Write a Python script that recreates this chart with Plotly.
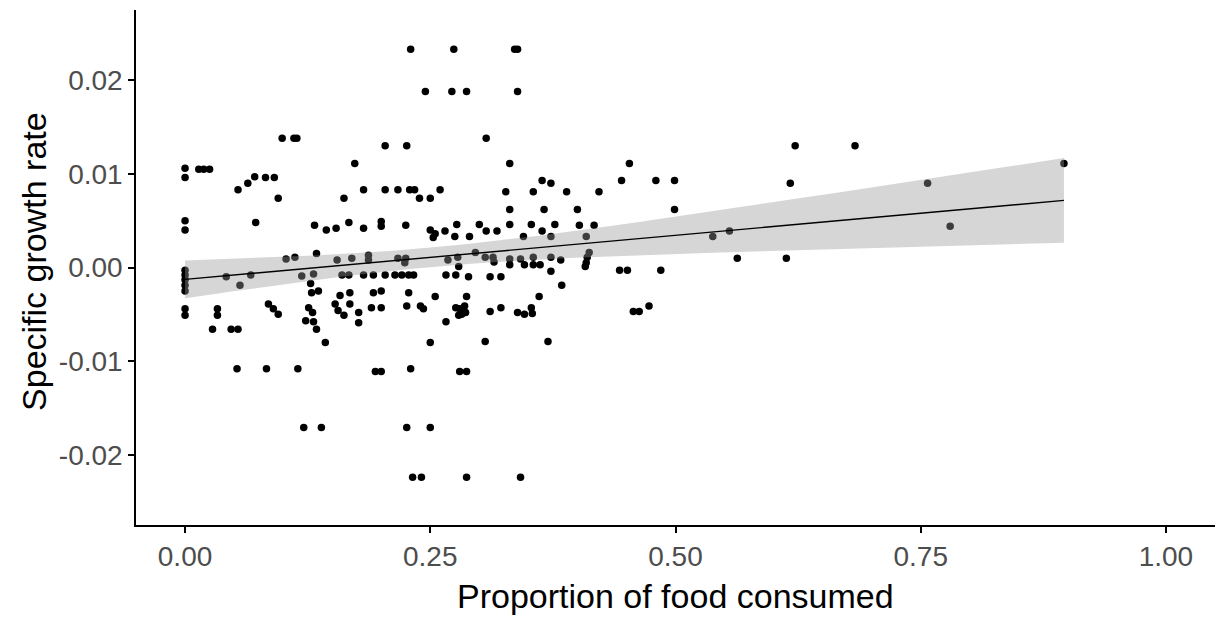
import numpy as np
import plotly.graph_objects as go

# Proportion of food consumed (x) and specific growth rate (y) per fish
prop_consumed = [
    0, 0, 0.014, 0.019, 0.025, 0.099, 0.111, 0.114, 0.054, 0.064,
    0.071, 0.082, 0.091, 0.095, 0, 0, 0.072, 0.103, 0.112, 0,
    0, 0, 0, 0, 0.042, 0.056, 0.067, 0, 0, 0.033,
    0.033, 0.085, 0.090, 0.095, 0.028, 0.047, 0.054, 0.053, 0.083, 0.115,
    0.204, 0.226, 0.173, 0.182, 0.204, 0.217, 0.229, 0.234, 0.162, 0.239,
    0.250, 0.260, 0.132, 0.144, 0.154, 0.167, 0.182, 0.200, 0.200, 0.225,
    0.250, 0.255, 0.253, 0.134, 0.119, 0.131, 0.155, 0.170, 0.187, 0.187,
    0.217, 0.225, 0.224, 0.160, 0.167, 0.182, 0.192, 0.204, 0.214, 0.221,
    0.228, 0.233, 0.128, 0.129, 0.136, 0.158, 0.168, 0.192, 0.200, 0.228,
    0.255, 0.126, 0.130, 0.153, 0.156, 0.162, 0.168, 0.177, 0.190, 0.200,
    0.226, 0.240, 0.243, 0.123, 0.131, 0.134, 0.177, 0.143, 0.250, 0.194,
    0.200, 0.230, 0.121, 0.139, 0.226, 0.250,
    0.230, 0.245, 0.274, 0.336, 0.339, 0.272, 0.287, 0.339, 0.307, 0.331,
    0.364, 0.373, 0.389, 0.327, 0.355, 0.331, 0.366, 0.265, 0.277, 0.275,
    0.290, 0.300, 0.307, 0.318, 0.331, 0.353, 0.364, 0.377, 0.345, 0.373,
    0.296,
    0.268, 0.278, 0.306, 0.314, 0.315, 0.331, 0.331, 0.342, 0.346, 0.355,
    0.355, 0.362, 0.373, 0.383, 0.279, 0.266, 0.276, 0.289, 0.311, 0.322,
    0.373, 0.384, 0.287, 0.361, 0.276, 0.280, 0.285, 0.282, 0.279, 0.286,
    0.311, 0.322, 0.339, 0.346, 0.353, 0.354, 0.266, 0.306, 0.370, 0.280,
    0.287, 0.232, 0.241, 0.287, 0.342,
    0.453, 0.445, 0.480, 0.499, 0.422, 0.400, 0.499, 0.402, 0.417, 0.409,
    0.412, 0.410, 0.409, 0.408, 0.443, 0.451, 0.485, 0.473, 0.457, 0.463,
    0.622, 0.683, 0.617, 0.896, 0.757, 0.780, 0.538, 0.555, 0.563, 0.613,
]

growth_rate = [
    0.0106, 0.0096, 0.0105, 0.0105, 0.0105, 0.0138, 0.0138, 0.0138, 0.0083, 0.0090,
    0.0097, 0.0096, 0.0096, 0.0074, 0.0050, 0.0040, 0.0048, 0.0009, 0.0011, -0.0003,
    -0.0008, -0.0013, -0.0019, -0.0025, -0.0010, -0.0019, -0.0008, -0.0044, -0.0051, -0.0044,
    -0.0051, -0.0039, -0.0044, -0.0050, -0.0066, -0.0066, -0.0066, -0.0108, -0.0108, -0.0108,
    0.0130, 0.0130, 0.0111, 0.0083, 0.0083, 0.0083, 0.0083, 0.0083, 0.0074, 0.0074,
    0.0074, 0.0083, 0.0045, 0.0040, 0.0042, 0.0048, 0.0042, 0.0049, 0.0044, 0.0045,
    0.0040, 0.0036, 0.0032, 0.0015, -0.0009, -0.0007, 0.0008, 0.0010, 0.0013, 0.0008,
    0.0010, 0.0010, 0.0005, -0.0008, -0.0008, -0.0008, -0.0008, -0.0008, -0.0008, -0.0008,
    -0.0008, -0.0008, -0.0017, -0.0027, -0.0025, -0.0030, -0.0027, -0.0027, -0.0025, -0.0027,
    -0.0031, -0.0043, -0.0048, -0.0039, -0.0046, -0.0051, -0.0039, -0.0048, -0.0043, -0.0043,
    -0.0041, -0.0041, -0.0044, -0.0057, -0.0058, -0.0066, -0.0059, -0.0080, -0.0080, -0.0111,
    -0.0111, -0.0108, -0.0171, -0.0171, -0.0171, -0.0171,
    0.0233, 0.0188, 0.0233, 0.0233, 0.0233, 0.0188, 0.0188, 0.0188, 0.0138, 0.0111,
    0.0093, 0.0090, 0.0081, 0.0081, 0.0081, 0.0062, 0.0062, 0.0039, 0.0046, 0.0033,
    0.0033, 0.0046, 0.0039, 0.0039, 0.0046, 0.0046, 0.0039, 0.0046, 0.0033, 0.0033,
    0.0016,
    0.0008, 0.0011, 0.0011, 0.0011, 0.0006, 0.0009, 0.0003, 0.0009, 0.0003, 0.0011,
    0.0003, 0.0003, 0.0011, 0.0008, 0.0001, -0.0008, -0.0008, -0.0010, -0.0010, -0.0010,
    -0.0004, -0.0019, -0.0031, -0.0031, -0.0043, -0.0044, -0.0041, -0.0050, -0.0051, -0.0048,
    -0.0047, -0.0043, -0.0048, -0.0050, -0.0043, -0.0049, -0.0058, -0.0079, -0.0079, -0.0111,
    -0.0111, -0.0224, -0.0224, -0.0224, -0.0224,
    0.0111, 0.0093, 0.0093, 0.0093, 0.0081, 0.0062, 0.0062, 0.0045, 0.0045, 0.0033,
    0.0016, 0.0011, 0.0005, 0.0001, -0.0003, -0.0003, -0.0003, -0.0041, -0.0047, -0.0047,
    0.0130, 0.0130, 0.0090, 0.0111, 0.0090, 0.0044, 0.0033, 0.0039, 0.0010, 0.0010,
]

x_ticks = [0.00, 0.25, 0.50, 0.75, 1.00]
x_tick_labels = ["0.00", "0.25", "0.50", "0.75", "1.00"]
y_ticks = [-0.02, -0.01, 0.00, 0.01, 0.02]
y_tick_labels = ["-0.02", "-0.01", "0.00", "0.01", "0.02"]

# Linear model fit with 95% confidence band (like geom_smooth(method = "lm"))
x = np.asarray(prop_consumed, dtype=float)
y = np.asarray(growth_rate, dtype=float)
n = len(x)
slope, intercept = np.polyfit(x, y, 1)
resid = y - (intercept + slope * x)
s = np.sqrt(np.sum(resid ** 2) / (n - 2))
x_mean = x.mean()
sxx = np.sum((x - x_mean) ** 2)
t_crit = 1.971  # t(0.975, df ~ 220)
grid = np.linspace(x.min(), x.max(), 80)
fit = intercept + slope * grid
se = s * np.sqrt(1.0 / n + (grid - x_mean) ** 2 / sxx)
lower = fit - t_crit * se
upper = fit + t_crit * se

fig = go.Figure()
fig.add_trace(go.Scatter(
    x=prop_consumed, y=growth_rate, mode="markers",
    marker=dict(color="black", size=7.5, line=dict(width=0)),
    showlegend=False, hoverinfo="skip",
))
# confidence band drawn over the points, as in ggplot
fig.add_trace(go.Scatter(
    x=np.concatenate([grid, grid[::-1]]), y=np.concatenate([upper, lower[::-1]]),
    mode="lines", fill="toself", fillcolor="rgba(153,153,153,0.4)",
    line=dict(width=0), showlegend=False, hoverinfo="skip",
))
fig.add_trace(go.Scatter(
    x=grid, y=fit, mode="lines", line=dict(color="black", width=1.4),
    showlegend=False, hoverinfo="skip",
))

font_family = "Liberation Sans, Arial, sans-serif"
tick_font = dict(family=font_family, size=28, color="#4D4D4D")
title_font = dict(family=font_family, size=34, color="black")

axis_style = dict(
    showgrid=False, zeroline=False, showline=True, linecolor="black", linewidth=1.5,
    ticks="outside", ticklen=6, tickcolor="black", tickwidth=1.5, tickfont=tick_font,
)

fig.update_layout(
    width=1222, height=624,
    margin=dict(l=136, r=7, t=10, b=99),
    paper_bgcolor="white", plot_bgcolor="white",
    xaxis=dict(range=[-0.05, 1.05], tickvals=x_ticks, ticktext=x_tick_labels, **axis_style),
    yaxis=dict(range=[-0.0275, 0.0275], tickvals=y_ticks, ticktext=y_tick_labels, **axis_style),
    annotations=[
        dict(text="Proportion of food consumed", font=title_font, showarrow=False,
             xref="paper", yref="paper", x=0.5, y=-0.098, xanchor="center", yanchor="top"),
        dict(text="Specific growth rate", font=title_font, showarrow=False, textangle=-90,
             xref="paper", yref="paper", x=-0.0946, y=0.5126, xanchor="center", yanchor="middle"),
    ],
)

fig.write_html("out.html")
